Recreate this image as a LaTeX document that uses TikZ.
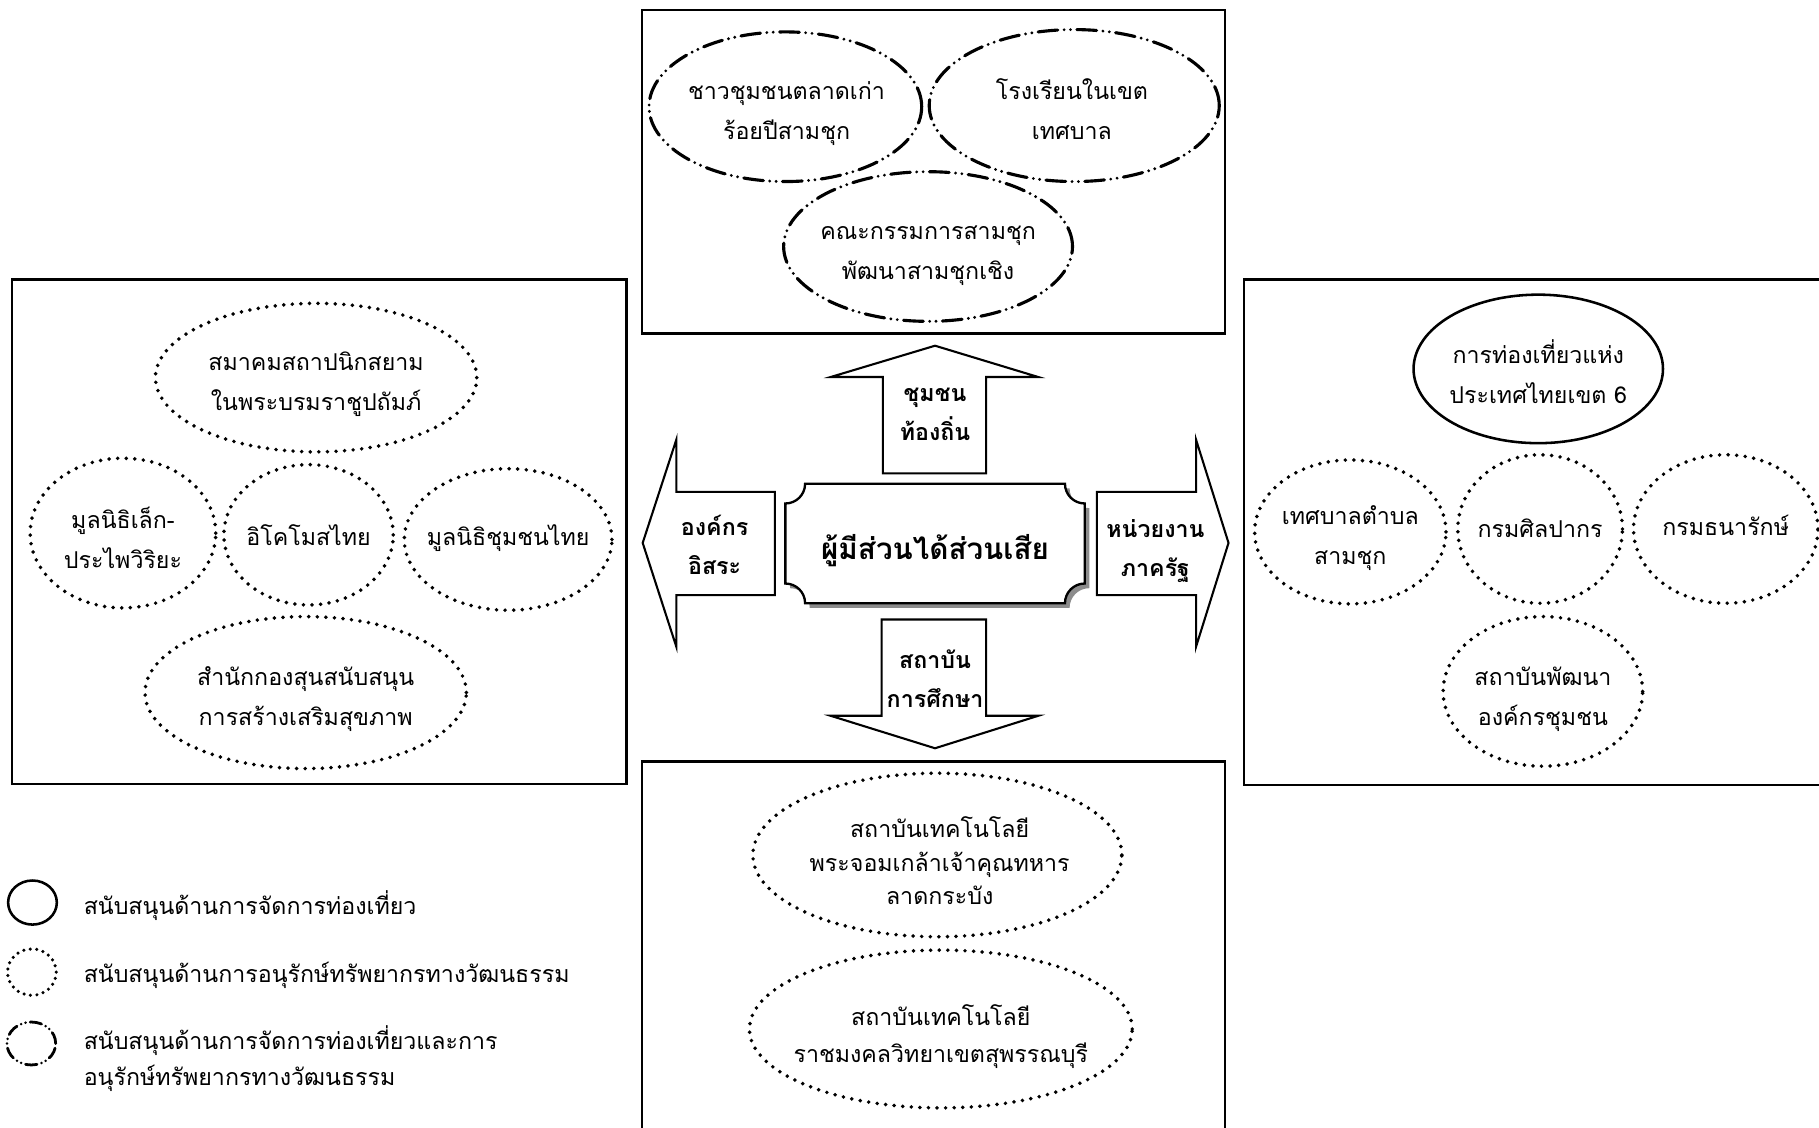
\documentclass[tikz,border=0pt]{standalone}
\usepackage{fontspec}
\setmainfont[Script=Thai]{Loma}
\usetikzlibrary{shapes.geometric}
\tikzset{
  boxline/.style={line width=1.9pt},
  ell/.style={ellipse, inner sep=0pt, minimum width=#1},
  dotl/.style={draw, line width=3.4pt, dash pattern=on 0pt off 7.4pt, line cap=round},
  ddot/.style={draw, line width=2.7pt, dash pattern=on 17pt off 5.5pt on 0pt off 5.5pt on 0pt off 5.5pt, line cap=round},
  solidl/.style={draw, line width=2.2pt},
  tx/.style={align=center, inner sep=0pt, text height=12pt, text depth=2pt, font=\fontsize{20}{34.5}\selectfont},
  two/.style={yshift=-17.25pt},
  txa/.style={tx, font=\fontsize{20}{29}\selectfont, yshift=-29pt},
  txb/.style={tx, font=\fontsize{20}{31.5}\selectfont, yshift=-15.75pt},
  lab/.style={align=center, inner sep=0pt, text height=12pt, text depth=2pt, font=\fontsize{20}{34}\selectfont\bfseries, yshift=-17pt},
  arr/.style={draw, line width=1.8pt, fill=white, line join=miter},
  legt/.style={align=left, inner sep=0pt, anchor=west, text height=12pt, text depth=2pt, font=\fontsize{20}{31.5}\selectfont},
}
\begin{document}
\begin{tikzpicture}[x=1pt,y=-1pt]
\useasboundingbox (0,0) rectangle (1568,971.5);
\clip (0,0) rectangle (1568,971.5);
% boxes
\draw[boxline] (553.5,8.6) rectangle (1056,287.5);
\draw[boxline] (10.5,241) rectangle (540,675.5);
\draw[boxline] (1072.5,241) rectangle (1600,676.5);
\draw[boxline] (553.5,656.5) rectangle (1056,1000);
% top box ellipses
\node[ell=235pt, minimum height=129pt, ddot] (e1) at (677,92) {};
\node[tx, two] (e1t) at (678,97.8) {ชาวชุมชนตลาดเก่า\\ร้อยปีสามชุก};
\node[ell=250pt, minimum height=131pt, ddot] (e2) at (926,91) {};
\node[tx, two] (e2t) at (924,97.8) {โรงเรียนในเขต\\เทศบาล};
\node[ell=249pt, minimum height=129pt, ddot] (e3) at (800,212.5) {};
\node[tx, two] (e3t) at (800,219) {คณะกรรมการสามชุก\\พัฒนาสามชุกเชิง};
% left box ellipses
\node[ell=277pt, minimum height=128pt, dotl] (l1) at (272.5,325.5) {};
\node[tx, two] (l1t) at (272.5,332) {สมาคมสถาปนิกสยาม\\ในพระบรมราชูปถัมภ์};
\node[ell=160pt, minimum height=129pt, dotl] (l2) at (106,459.5) {};
\node[tx, two] (l2t) at (106,467.5) {มูลนิธิเล็ก-\\ประไพวิริยะ};
\node[ell=146pt, minimum height=121pt, dotl] (l3) at (266,461) {};
\node[tx] (l3t) at (266,465.6) {อิโคโมสไทย};
\node[ell=179pt, minimum height=122pt, dotl] (l4) at (438,465) {};
\node[tx] (l4t) at (438,465.6) {มูลนิธิชุมชนไทย};
\node[ell=277pt, minimum height=131pt, dotl] (l5) at (263.5,597) {};
\node[tx, two] (l5t) at (263.5,603) {สำนักกองสุนสนับสนุน\\การสร้างเสริมสุขภาพ};
% right box ellipses
\node[ell=215pt, minimum height=128pt, solidl] (r1) at (1326,318) {};
\node[tx, two] (r1t) at (1326,325.5) {การท่องเที่ยวแห่ง\\ประเทศไทยเขต 6};
\node[ell=165pt, minimum height=124pt, dotl] (r2) at (1164,458.5) {};
\node[tx, two] (r2t) at (1164,464.5) {เทศบาลตำบล\\สามชุก};
\node[ell=142pt, minimum height=128pt, dotl] (r3) at (1327.6,456) {};
\node[tx] (r3t) at (1327.6,458) {กรมศิลปากร};
\node[ell=159pt, minimum height=128pt, dotl] (r4) at (1487.6,456) {};
\node[tx] (r4t) at (1487.6,457) {กรมธนารักษ์};
\node[ell=172pt, minimum height=129pt, dotl] (r5) at (1330,596) {};
\node[tx, two] (r5t) at (1330,603) {สถาบันพัฒนา\\องค์กรชุมชน};
% bottom box ellipses
\node[ell=318pt, minimum height=141pt, dotl] (b1) at (808,737) {};
\node[txa] (b1t) at (810,746) {สถาบันเทคโนโลยี\\พระจอมเกล้าเจ้าคุณทหาร\\ลาดกระบัง};
\node[ell=330pt, minimum height=136pt, dotl] (b2) at (811,887) {};
\node[txb] (b2t) at (811,895) {สถาบันเทคโนโลยี\\ราชมงคลวิทยาเขตสุพรรณบุรี};
% arrows
\draw[arr] (761,408) -- (761,325) -- (716,325) -- (806,298) -- (895,325) -- (850,325) -- (850,408) -- cycle;
\draw[arr] (760,534) -- (850,534) -- (850,617) -- (895,617) -- (806,645) -- (716,617) -- (760,617) -- cycle;
\draw[arr] (668,424) -- (583,424) -- (583,379) -- (554,468) -- (583,557.5) -- (583,513) -- (668,513) -- cycle;
\draw[arr] (945.5,424) -- (1031,424) -- (1031,379) -- (1059,468) -- (1031,557.5) -- (1031,513) -- (945.5,513) -- cycle;
\node[lab] (au) at (806,358) {ชุมชน\\ท้องถิ่น};
\node[lab] (ad) at (806,588) {สถาบัน\\การศึกษา};
\node[lab] (al) at (616,473.5) {องค์กร\\อิสระ};
\node[lab] (ar) at (996,475) {หน่วยงาน\\ภาครัฐ};
% plaque
\def\plaque{(694,417) -- (918,417) arc[start angle=180,end angle=90,radius=17] -- (935,503) arc[start angle=270,end angle=180,radius=17] -- (694,520) arc[start angle=0,end angle=-90,radius=17] -- (677,434) arc[start angle=90,end angle=0,radius=17] -- cycle}
\fill[black!45, shift={(4pt,-4pt)}] \plaque;
\draw[line width=2pt, fill=white] \plaque;
\node[inner sep=0pt, text height=18pt, text depth=3pt, font=\fontsize{25.5}{30}\selectfont\bfseries] (ctr) at (806,475) {ผู้มีส่วนได้ส่วนเสีย};
% legend
\node[ell=42pt, minimum height=38pt, solidl] (g1) at (28,778) {};
\node[legt] (g1t) at (72,783) {สนับสนุนด้านการจัดการท่องเที่ยว};
\node[ell=42pt, minimum height=40pt, draw, line width=3pt, line cap=round, dash pattern=on 0pt off 5.6pt] (g2) at (27.5,838) {};
\node[legt] (g2t) at (72,842) {สนับสนุนด้านการอนุรักษ์ทรัพยากรทางวัฒนธรรม};
\node[ell=42pt, minimum height=37pt, draw, line width=2.4pt, line cap=round, dash pattern=on 10pt off 4pt on 0pt off 4pt on 0pt off 4pt] (g3) at (27,899.5) {};
\node[legt, yshift=-15.75pt] (g3t) at (72,915) {สนับสนุนด้านการจัดการท่องเที่ยวและการ\\อนุรักษ์ทรัพยากรทางวัฒนธรรม};
\end{tikzpicture}
\end{document}
